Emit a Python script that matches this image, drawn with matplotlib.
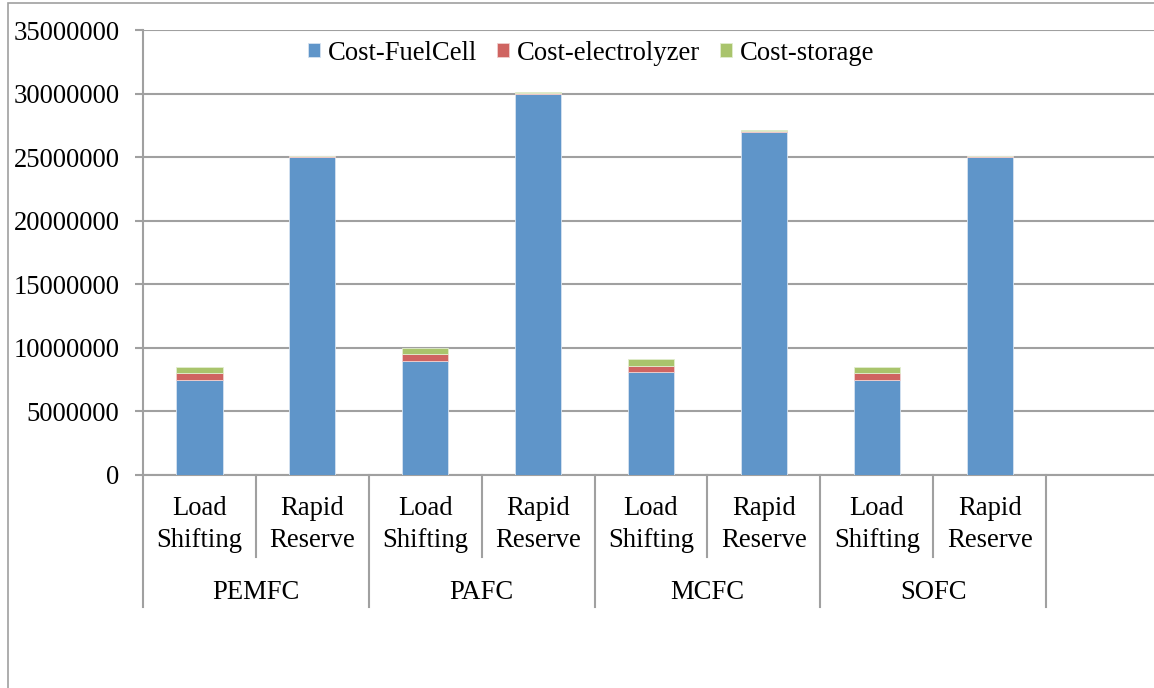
import matplotlib
matplotlib.use("Agg")
import matplotlib.pyplot as plt
from matplotlib.patches import Rectangle
import numpy as np

# chart data
groups = ["PEMFC", "PAFC", "MCFC", "SOFC"]
applications = ["Load\nShifting", "Rapid\nReserve"]
cost_fuelcell = [7500000, 25000000, 9000000, 30000000, 8100000, 27000000, 7500000, 25000000]
cost_electrolyzer = [500000, 60000, 500000, 60000, 500000, 60000, 500000, 60000]
cost_storage = [500000, 40000, 500000, 80000, 500000, 60000, 500000, 40000]
series_names = ["Cost-FuelCell", "Cost-electrolyzer", "Cost-storage"]
yticks = [0, 5000000, 10000000, 15000000, 20000000, 25000000, 30000000, 35000000]

colors = ["#5F95C9", "#CF6461", "#A9C46C"]
grey = "#A0A0A0"
fontsize = 19.2

plt.rcParams["font.family"] = ["Liberation Serif", "DejaVu Serif"]
plt.rcParams["font.size"] = fontsize

fig = plt.figure(figsize=(11.54, 6.88), dpi=100)
# axes spans 9 slots, last one is empty and runs a bit past the right edge
ax = fig.add_axes([143 / 1154, 213 / 688, 1016 / 1154, 445 / 688])

# outer chart frame
fig.patches.append(Rectangle((8 / 1154, -0.1), 1.2, 1.1 - 3 / 688, transform=fig.transFigure,
                             fill=False, edgecolor=grey, linewidth=1.2, zorder=0))

x = np.arange(len(cost_fuelcell))
width = 0.41
bottom1 = np.array(cost_fuelcell)
bottom2 = bottom1 + np.array(cost_electrolyzer)

b1 = ax.bar(x, cost_fuelcell, width, color=colors[0], edgecolor="#D6E3F1", linewidth=0.6, zorder=3)
b2 = ax.bar(x, cost_electrolyzer, width, bottom=bottom1, color=colors[1], edgecolor="#F0D0CF", linewidth=0.6, zorder=3)
b3 = ax.bar(x, cost_storage, width, bottom=bottom2, color=colors[2], edgecolor="#E2EDCF", linewidth=0.6, zorder=3)

ax.set_xlim(-0.5, 8.5)
ax.set_ylim(0, 35000000)
ax.set_yticks(yticks)
ax.set_yticklabels([str(v) for v in yticks])
ax.set_xticks([])
ax.yaxis.grid(True, color=grey, linewidth=1.5)
ax.set_axisbelow(True)

for side in ["top", "right"]:
    ax.spines[side].set_visible(False)
for side in ["left", "bottom"]:
    ax.spines[side].set_color(grey)
    ax.spines[side].set_linewidth(1.5)
ax.tick_params(axis="y", length=6, width=1.5, color=grey, pad=11, labelsize=fontsize)

# multi level category axis
trans = ax.get_xaxis_transform()
for i in range(len(cost_fuelcell)):
    ax.text(i, -0.112, applications[i % 2], transform=trans, ha="center", va="center",
            linespacing=1.38, fontsize=fontsize)
for g, name in enumerate(groups):
    ax.text(2 * g + 0.5, -0.265, name, transform=trans, ha="center", va="center", fontsize=fontsize)
    # inner divider between the two applications
    ax.plot([2 * g + 0.5, 2 * g + 0.5], [0, -0.184], transform=trans, color=grey,
            linewidth=1.5, clip_on=False)
    ax.plot([2 * g - 0.5, 2 * g - 0.5], [0, -0.297], transform=trans, color=grey,
            linewidth=1.5, clip_on=False)
ax.plot([7.5, 7.5], [0, -0.297], transform=trans, color=grey, linewidth=1.5, clip_on=False)

ax.legend([b1, b2, b3], series_names, loc="center", bbox_to_anchor=(0.441, 0.948), ncol=3,
          frameon=False, handlelength=0.45, handleheight=0.45, handletextpad=0.3,
          columnspacing=0.75, fontsize=fontsize, borderpad=0)

fig.savefig("out.png", dpi=100)
